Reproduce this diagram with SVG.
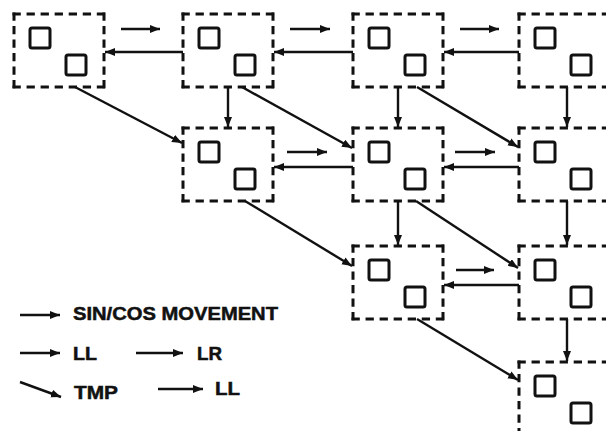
<svg xmlns="http://www.w3.org/2000/svg" xmlns:xlink="http://www.w3.org/1999/xlink" width="606" height="431" viewBox="0 0 606 431">
<style>
.bg{fill:#ffffff}
.edge{fill:none;stroke:#111;stroke-width:3;stroke-linecap:square}
.eh{stroke-dasharray:5.3 8.75}
.ev{stroke-dasharray:5.3 8.2}
.sq{fill:none;stroke:#111;stroke-width:3}
.ln{fill:none;stroke:#111;stroke-width:2.4}
.arr{marker-end:url(#ah)}
.lbl{font-family:"Liberation Sans",Arial,sans-serif;font-weight:bold;font-size:18px;fill:#111;stroke:#111;stroke-width:0.5}
</style>
<defs>
<marker id="ah" markerUnits="userSpaceOnUse" markerWidth="11" markerHeight="9" refX="10" refY="4" orient="auto">
<path d="M0,0 L10,4 L0,8 z" fill="#111"/>
</marker>
<g id="node">
<path class="edge eh" d="M0,0 h90"/>
<path class="edge eh" d="M0,73 h90"/>
<path class="edge ev" d="M0,0 v73"/>
<path class="edge ev" d="M90,0 v73"/>
<rect class="sq" x="16" y="14" width="20" height="20" rx="2"/>
<rect class="sq" x="52" y="41" width="20" height="20" rx="2"/>
</g>
</defs>
<rect class="bg" x="0" y="0" width="606" height="431"/>
<g id="nodes">
<g id="n00"><use xlink:href="#node" x="14" y="14"/></g>
<g id="n01"><use xlink:href="#node" x="183" y="14"/></g>
<g id="n02"><use xlink:href="#node" x="353" y="14"/></g>
<g id="n03"><use xlink:href="#node" x="519" y="14"/></g>
<g id="n11"><use xlink:href="#node" x="183" y="128"/></g>
<g id="n12"><use xlink:href="#node" x="353" y="128"/></g>
<g id="n13"><use xlink:href="#node" x="519" y="128"/></g>
<g id="n22"><use xlink:href="#node" x="353" y="246"/></g>
<g id="n23"><use xlink:href="#node" x="519" y="246"/></g>
<g id="n33"><use xlink:href="#node" x="519" y="362"/></g>
</g>
<g id="connectors">
<path class="ln arr" d="M121,29 H160"/>
<path class="ln arr" d="M290,29 H330"/>
<path class="ln arr" d="M460,29 H499"/>
<path class="ln arr" d="M183,52 H105"/>
<path class="ln arr" d="M353,52 H274"/>
<path class="ln arr" d="M519,52 H444"/>
<path class="ln arr" d="M287,152 H327"/>
<path class="ln arr" d="M455,152 H495"/>
<path class="ln arr" d="M353,167 H274"/>
<path class="ln arr" d="M519,167 H444"/>
<path class="ln arr" d="M456,270 H494"/>
<path class="ln arr" d="M519,285 H444"/>
<path class="ln arr" d="M228,87 V127"/>
<path class="ln arr" d="M398,87 V127"/>
<path class="ln arr" d="M567,87 V127"/>
<path class="ln arr" d="M398,201 V245"/>
<path class="ln arr" d="M567,201 V245"/>
<path class="ln arr" d="M567,319 V361"/>
<path class="ln arr" d="M75,87 L182,143"/>
<path class="ln arr" d="M242,87 L352,148"/>
<path class="ln arr" d="M417,87 L518,147"/>
<path class="ln arr" d="M245,201 L352,266"/>
<path class="ln arr" d="M416,201 L518,268"/>
<path class="ln arr" d="M417,319 L518,380"/>
</g>
<g id="legend">
<path class="ln arr" d="M20,315 H60"/>
<text class="lbl" x="73" y="320" textLength="205" lengthAdjust="spacingAndGlyphs">SIN/COS MOVEMENT</text>
<path class="ln arr" d="M20,353 H60"/>
<text class="lbl" x="73" y="360" textLength="24" lengthAdjust="spacingAndGlyphs">LL</text>
<path class="ln arr" d="M136,353 H183"/>
<text class="lbl" x="197" y="360" textLength="25" lengthAdjust="spacingAndGlyphs">LR</text>
<path class="ln arr" d="M20,382 L61,397"/>
<text class="lbl" x="74" y="399" textLength="44" lengthAdjust="spacingAndGlyphs">TMP</text>
<path class="ln arr" d="M158,389 H203"/>
<text class="lbl" x="215" y="395" textLength="25" lengthAdjust="spacingAndGlyphs">LL</text>
</g>
</svg>
